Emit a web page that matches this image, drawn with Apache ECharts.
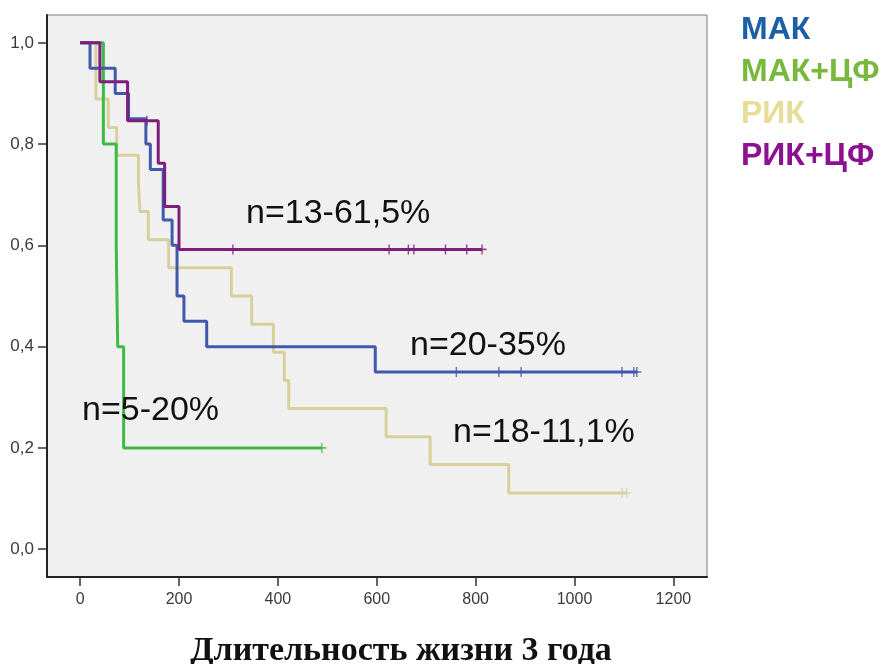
<!DOCTYPE html>
<html>
<head>
<meta charset="utf-8">
<script src="https://cdn.jsdelivr.net/npm/echarts@6/dist/echarts.min.js"></script>
<style>
  html, body { margin: 0; padding: 0; background: #fff; }
  #main { width: 887px; height: 664px; }
</style>
</head>
<body>
<div id="main"></div>
<script>
// tick labels
const xTicks = [0, 200, 400, 600, 800, 1000, 1200];
const yTicks = [0, 0.2, 0.4, 0.6, 0.8, 1.0];

// МАК (n=20)
const makTimes = [0, 20, 71, 98, 133, 142, 168, 186, 196, 210, 256, 597, 1126];
const makSurv = [1.0, 0.95, 0.90, 0.85, 0.80, 0.75, 0.65, 0.60, 0.50, 0.45, 0.40, 0.35, 0.35];
const makCensorT = [761, 847, 892, 1096, 1120, 1126];
const makCensorS = [0.35, 0.35, 0.35, 0.35, 0.35, 0.35];

// МАК+ЦФ (n=5)
const makCfTimes = [0, 47, 73, 76, 88, 489];
const makCfSurv = [1.0, 0.8, 0.6, 0.4, 0.2, 0.2];
const makCfCensorT = [489];
const makCfCensorS = [0.2];

// РИК (n=18)
const rikTimes = [0, 32, 57, 74, 118, 121, 138, 179, 306, 347, 391, 413, 422, 619, 708, 867, 1106];
const rikSurv = [1.0, 0.889, 0.833, 0.778, 0.722, 0.667, 0.611, 0.556, 0.5, 0.444, 0.389, 0.333, 0.278, 0.222, 0.167, 0.111, 0.111];
const rikCensorT = [1096, 1106];
const rikCensorS = [0.111, 0.111];

// РИК+ЦФ (n=13)
const rikCfTimes = [0, 40, 96, 158, 171, 200, 813];
const rikCfSurv = [1.0, 0.923, 0.846, 0.762, 0.677, 0.592, 0.592];
const rikCfCensorT = [135, 309, 625, 664, 675, 739, 782, 813];
const rikCfCensorS = [0.846, 0.592, 0.592, 0.592, 0.592, 0.592, 0.592, 0.592];

const groups = ['МАК', 'МАК+ЦФ', 'РИК', 'РИК+ЦФ'];
const lineColors = ['#4059ad', '#3cba47', '#d8d09a', '#7d1e7d'];
const legendColors = ['#1d5fa6', '#78b83e', '#e8dc98', '#8c1090'];

const plus = 'path://M-0.8,-5H0.8V-0.8H5V0.8H0.8V5H-0.8V0.8H-5V-0.8H-0.8Z';

const zip = (a, b) => a.map((v, i) => [v, b[i]]);

const curves = [
  [makTimes, makSurv, makCensorT, makCensorS],
  [makCfTimes, makCfSurv, makCfCensorT, makCfCensorS],
  [rikTimes, rikSurv, rikCensorT, rikCensorS],
  [rikCfTimes, rikCfSurv, rikCfCensorT, rikCfCensorS]
];
// draw order: yellow, green, blue, purple on top
const zOrder = [3, 2, 1, 4];

const series = [];
curves.forEach((c, i) => {
  series.push({
    name: groups[i],
    type: 'line',
    step: 'end',
    data: zip(c[0], c[1]),
    showSymbol: false,
    symbol: 'none',
    z: zOrder[i],
    lineStyle: { color: lineColors[i], width: 3 },
    itemStyle: { color: lineColors[i] }
  });
  series.push({
    name: groups[i] + ' censored',
    type: 'scatter',
    data: zip(c[2], c[3]),
    symbol: plus,
    symbolSize: [9, 10],
    z: zOrder[i],
    itemStyle: { color: lineColors[i] }
  });
});

const chart = echarts.init(document.getElementById('main'));

const labelFont = 'Arial, "Liberation Sans", sans-serif';

chart.setOption({
  animation: false,
  backgroundColor: '#ffffff',
  grid: {
    left: 47, right: 180, top: 15, bottom: 87,
    show: true,
    backgroundColor: '#f0f0f0',
    borderColor: '#7a7a7a',
    borderWidth: 1
  },
  legend: {
    orient: 'vertical',
    left: 731,
    top: 9,
    itemWidth: 0,
    itemHeight: 0,
    itemGap: 10,
    selectedMode: false,
    textStyle: { fontSize: 32, fontWeight: 'bold', fontFamily: labelFont, lineHeight: 32 },
    data: groups.map((g, i) => ({ name: g, icon: 'none', textStyle: { color: legendColors[i] } }))
  },
  xAxis: {
    type: 'value',
    min: -67,
    max: 1268,
    splitLine: { show: false },
    axisLine: { show: true, onZero: false, lineStyle: { color: '#222', width: 2 } },
    axisTick: { show: true, length: 9, customValues: xTicks, lineStyle: { color: '#333', width: 1.5 } },
    axisLabel: {
      customValues: xTicks,
      margin: 15,
      fontSize: 16,
      fontFamily: labelFont,
      color: '#3a3a3a',
      formatter: v => String(v)
    }
  },
  yAxis: {
    type: 'value',
    min: -0.055,
    max: 1.055,
    splitLine: { show: false },
    axisLine: { show: true, onZero: false, lineStyle: { color: '#222', width: 2 } },
    axisTick: { show: true, length: 9, customValues: yTicks, lineStyle: { color: '#333', width: 1.5 } },
    axisLabel: {
      customValues: yTicks,
      margin: 13,
      fontSize: 17,
      fontFamily: labelFont,
      color: '#3a3a3a',
      formatter: v => v.toFixed(1).replace('.', ',')
    }
  },
  graphic: [
    { type: 'text', x: 246, y: 214, style: { text: 'n=13-61,5%', font: '34px ' + labelFont, fill: '#111', verticalAlign: 'middle' }, z: 10 },
    { type: 'text', x: 410, y: 346, style: { text: 'n=20-35%', font: '34px ' + labelFont, fill: '#111', verticalAlign: 'middle' }, z: 10 },
    { type: 'text', x: 453, y: 433, style: { text: 'n=18-11,1%', font: '34px ' + labelFont, fill: '#111', verticalAlign: 'middle' }, z: 10 },
    { type: 'text', x: 82, y: 411, style: { text: 'n=5-20%', font: '34px ' + labelFont, fill: '#111', verticalAlign: 'middle' }, z: 10 },
    { type: 'text', x: 401, y: 651, style: { text: 'Длительность жизни 3 года', font: 'bold 34px "Liberation Serif", "Times New Roman", serif', fill: '#111', align: 'center', verticalAlign: 'middle' } }
  ],
  series: series
});
</script>
</body>
</html>
